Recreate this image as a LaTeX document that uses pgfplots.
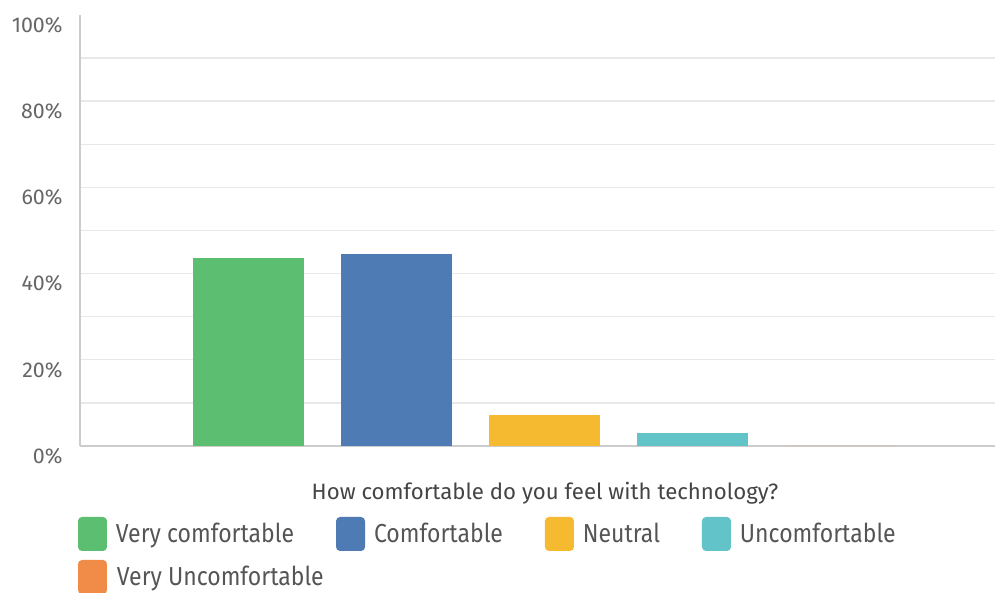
\documentclass[border=0pt]{standalone}
\usepackage{pgfplots}
\pgfplotsset{compat=1.18}
\usepackage{fontspec}
\setmainfont{Fira Sans}
\newfontfamily\legfont[FakeStretch=0.885]{Fira Sans}
\definecolor{cgreen}{HTML}{5BBE70}
\definecolor{cblue}{HTML}{4F7BB5}
\definecolor{cyellow}{HTML}{F5BA30}
\definecolor{cteal}{HTML}{62C3C9}
\definecolor{corange}{HTML}{F08B48}
\definecolor{gridgray}{HTML}{E8E8E8}
\definecolor{axisgray}{HTML}{CCCCCC}
\definecolor{tickgray}{HTML}{666666}
\definecolor{leggray}{HTML}{555555}
\definecolor{labgray}{HTML}{444444}
\pgfplotsset{
  mybar/.style={ybar, bar width=55.5pt, bar shift=0pt, draw=none,
    legend image code/.code={\fill[##1, rounded corners=2pt] (0pt,-8.5pt) rectangle (14.5pt,8.5pt);}}
}
\begin{document}
\begin{tikzpicture}
\begin{axis}[
  scale only axis, width=457.5pt, height=215.5pt,
  xmin=-1.14, xmax=5.045, ymin=0, ymax=100,
  axis x line=bottom, axis y line=left,
  axis line style={draw=axisgray, line width=0.7pt, -},
  xtick=\empty,
  ytick={0,20,...,80},
  extra y ticks={100}, extra y tick labels={100\%},
  extra y tick style={grid=none},
  minor ytick={10,30,...,90},
  ymajorgrids, yminorgrids,
  grid style={draw=gridgray, line width=0.7pt},
  minor grid style={draw=gridgray, line width=0.7pt},
  major tick length=0pt, minor tick length=0pt,
  /pgf/number format/assume math mode=true,
  yticklabel={\pgfmathprintnumber{\tick}\%},
  yticklabel style={font=\fontsize{10.7}{12}\selectfont, text=tickgray, inner sep=0pt, xshift=-8.5pt, yshift=-5pt},
  xlabel={How comfortable do you feel with technology?},
  xlabel style={at={(axis description cs:0.5,0)}, anchor=north, inner sep=0pt, yshift=-18pt, xshift=3.75pt,
    font=\fontsize{11.1}{13}\selectfont, text=labgray},
  legend columns=4,
  legend cell align=left,
  legend style={at={(axis description cs:0,0)}, anchor=north west, xshift=-1pt, yshift=-35.5pt,
    draw=none, fill=none, inner sep=0pt, outer sep=0pt,
    nodes={inner sep=0pt, font=\legfont\fontsize{13}{15}\selectfont, text=leggray},
    row sep=4.5pt,
    /tikz/every odd column/.append style={column sep=4.5pt},
    /tikz/every even column/.append style={column sep=21pt}},
]
\addplot[mybar, fill=cgreen] coordinates {(0,43.6)};
\addlegendentry{Very comfortable}
\addplot[mybar, fill=cblue] coordinates {(1,44.6)};
\addlegendentry{Comfortable}
\addplot[mybar, fill=cyellow] coordinates {(2,7.1)};
\addlegendentry{Neutral}
\addplot[mybar, fill=cteal] coordinates {(3,3.1)};
\addlegendentry{Uncomfortable}
\addplot[mybar, fill=corange] coordinates {(4,0)};
\addlegendentry{\rlap{Very Uncomfortable}}
\end{axis}
\pgfresetboundingbox
\path[use as bounding box] ([xshift=-40pt,yshift=-73.5pt]current axis.south west) rectangle ([yshift=7.5pt]current axis.north east);
\end{tikzpicture}
\end{document}
